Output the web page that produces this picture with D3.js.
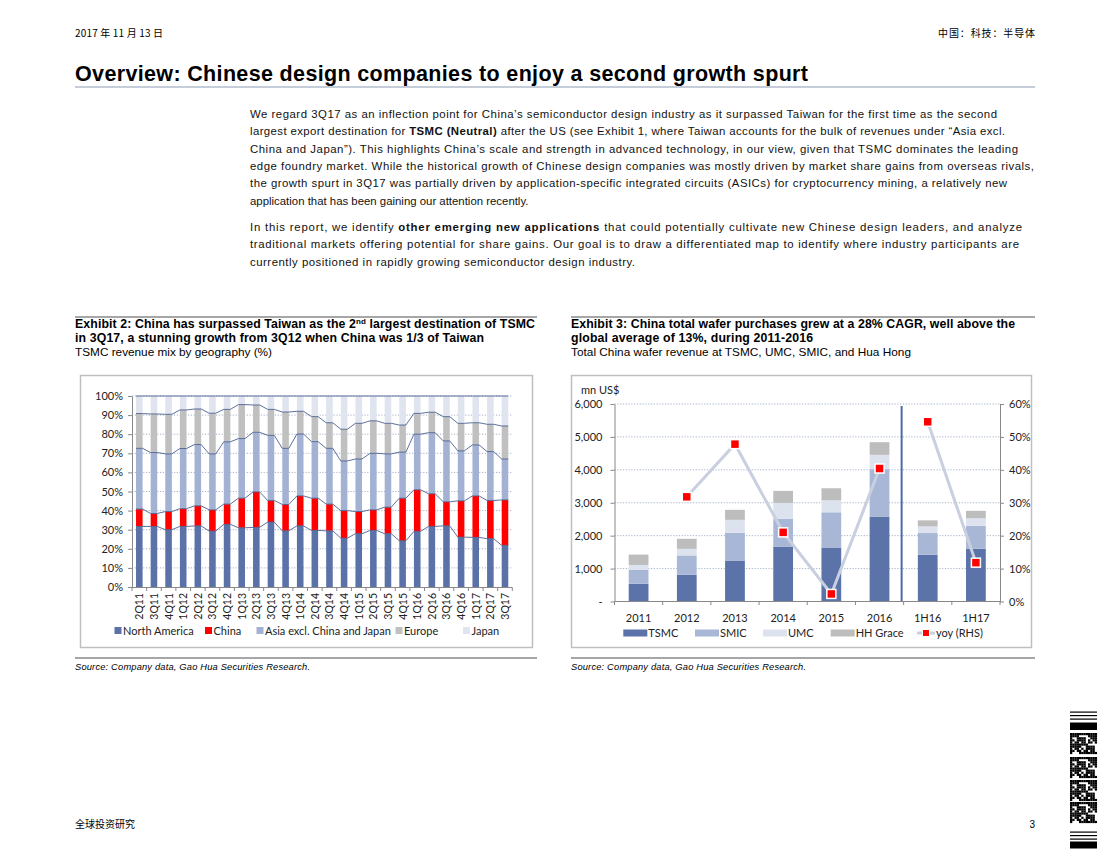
<!DOCTYPE html>
<html>
<head>
<meta charset="utf-8">
<script src="https://cdn.jsdelivr.net/npm/d3@7"></script>
<style>
  body { margin: 0; background: #fff; }
  svg text { font-family: "Liberation Sans", Arial, sans-serif; }
  .cjk { font-family: "Noto Sans CJK SC", sans-serif !important; }
  .xl { font-family: Lato, "Open Sans", sans-serif !important; }
</style>
</head>
<body>
<div id="page"></div>
<script>
// ---- data: exhibit 2, TSMC revenue mix by geography (%)
const quarters = ["2Q11","3Q11","4Q11","1Q12","2Q12","3Q12","4Q12","1Q13","2Q13","3Q13","4Q13","1Q14","2Q14",
  "3Q14","4Q14","1Q15","2Q15","3Q15","4Q15","1Q16","2Q16","3Q16","4Q16","1Q17","2Q17","3Q17"];
const geoNames = ["North America", "China", "Asia excl. China and Japan", "Europe", "Japan"];
const northAmerica = [31.7,31.7,30.0,31.7,32.0,29.3,32.8,31.0,31.2,34.0,29.4,32.0,29.6,29.4,25.6,27.9,29.6,27.9,24.2,29.1,31.7,32.0,26.1,26.0,25.3,21.8];
const china        = [9.1,6.8,9.5,9.3,10.5,11.1,10.6,15.5,18.6,11.3,13.8,15.7,16.9,14.0,14.4,11.6,10.8,13.9,22.3,21.8,17.1,12.6,19.0,21.7,20.0,23.8];
const asiaExcl     = [31.8,31.9,30.2,31.5,32.1,29.3,32.6,31.2,31.2,34.1,29.4,32.4,29.6,29.2,26.0,27.5,29.6,27.9,24.1,29.1,32.0,31.9,26.2,26.7,25.6,21.4];
const europe       = [18.2,20.2,20.7,20.2,18.6,21.3,17.0,17.8,14.3,13.6,19.0,11.9,13.1,13.4,16.6,18.7,17.0,16.0,14.2,10.9,10.7,12.7,14.4,11.6,14.3,17.3];
const japan        = [9.2,9.4,9.6,7.3,6.8,9.0,7.0,4.5,4.7,7.0,8.4,8.0,10.8,14.0,17.4,14.3,13.0,14.3,15.2,9.1,8.5,10.8,14.3,14.0,14.8,15.7];
const pctTicks = [0,10,20,30,40,50,60,70,80,90,100];

// ---- data: exhibit 3, China wafer revenue (mn US$) and yoy (%)
const periods = ["2011","2012","2013","2014","2015","2016","1H16","1H17"];
const foundryNames = ["TSMC", "SMIC", "UMC", "HH Grace"];
const tsmc   = [540, 810, 1245, 1660, 1640, 2580, 1420, 1600];
const smic   = [420, 590, 840, 850, 1070, 1440, 660, 700];
const umc    = [150, 200, 395, 485, 365, 435, 200, 230];
const hhgrace= [315, 305, 305, 365, 365, 385, 185, 225];
const yoy    = [null, 31.8, 47.8, 21.0, 2.3, 40.4, 54.6, 11.8];
const yoyGroups = [["2012","2013","2014","2015","2016"], ["1H16","1H17"]];
const revTicks = [0,1000,2000,3000,4000,5000,6000];
const yoyTicks = [0,10,20,30,40,50,60];

const W = 1100, H = 850;
const svg = d3.select("#page").append("svg").attr("width", W).attr("height", H);

// stretch a text line to the width it has in the printed page
function fit(t, w) { if (w) t.attr("textLength", w).attr("lengthAdjust", "spacing"); return t; }

// ---------- page header ----------
fit(svg.append("text").attr("class","cjk").attr("x",75).attr("y",37).attr("font-size",10).text("2017 年 11 月 13 日"), 88);
fit(svg.append("text").attr("class","cjk").attr("x",938).attr("y",37).attr("font-size",10).text("中国：科技：半导体"), 97);
fit(svg.append("text").attr("x",75).attr("y",81).attr("font-size",21.5).attr("font-weight","bold")
  .text("Overview: Chinese design companies to enjoy a second growth spurt"), 733);
svg.append("line").attr("x1",75).attr("x2",1035).attr("y1",87).attr("y2",87).attr("stroke","#8b9bb4").attr("stroke-width",1);

// body paragraphs: each line as list of [text, bold]
const bodyLines = [
  [["We regard 3Q17 as an inflection point for China’s semiconductor design industry as it surpassed Taiwan for the first time as the second", false]],
  [["largest export destination for ", false], ["TSMC (Neutral)", true], [" after the US (see Exhibit 1, where Taiwan accounts for the bulk of revenues under “Asia excl.", false]],
  [["China and Japan”). This highlights China’s scale and strength in advanced technology, in our view, given that TSMC dominates the leading", false]],
  [["edge foundry market. While the historical growth of Chinese design companies was mostly driven by market share gains from overseas rivals,", false]],
  [["the growth spurt in 3Q17 was partially driven by application-specific integrated circuits (ASICs) for cryptocurrency mining, a relatively new", false]],
  [["application that has been gaining our attention recently.", false]],
  [["In this report, we identify ", false], ["other emerging new applications", true], [" that could potentially cultivate new Chinese design leaders, and analyze", false]],
  [["traditional markets offering potential for share gains. Our goal is to draw a differentiated map to identify where industry participants are", false]],
  [["currently positioned in rapidly growing semiconductor design industry.", false]]
];
const bodyY = [118, 135, 153, 170, 187, 205, 231, 248, 266];
const bodyW = [747, 755, 768, 784, 757, null, 772, 769, 385];
bodyLines.forEach((ln, i) => {
  const t = svg.append("text").attr("x", 250).attr("y", bodyY[i]).attr("font-size", 11.4).attr("fill", "#111");
  ln.forEach(([s, b]) => t.append("tspan").attr("font-weight", b ? "bold" : "normal").text(s));
  fit(t, bodyW[i]);
});

// ---------- exhibit headers ----------
function exhibitHead(x0, x1, lines, widths, sub, subW) {
  svg.append("line").attr("x1",x0).attr("x2",x1).attr("y1",317).attr("y2",317).attr("stroke","#222").attr("stroke-width",0.8);
  lines.forEach((l, i) => {
    const t = svg.append("text").attr("x", x0).attr("y", 328 + i*14).attr("font-size", 12.3).attr("font-weight","bold");
    l.forEach(([s, sup]) => {
      const sp = t.append("tspan").text(s);
      if (sup) sp.attr("font-size", 8).attr("dy", -4);
      else if (sup === false) sp.attr("dy", 4);
    });
    fit(t, widths[i]);
  });
  fit(svg.append("text").attr("x", x0).attr("y", 356).attr("font-size", 11.8).text(sub), subW);
}
exhibitHead(75, 537, [
  [["Exhibit 2: China has surpassed Taiwan as the 2"], ["nd", true], [" largest destination of TSMC", false]],
  [["in 3Q17, a stunning growth from 3Q12 when China was 1/3 of Taiwan"]]
], [460, 409], "TSMC revenue mix by geography (%)", 197);
exhibitHead(571, 1035, [
  [["Exhibit 3: China total wafer purchases grew at a 28% CAGR, well above the"]],
  [["global average of 13%, during 2011-2016"]]
], [444, 242], "Total China wafer revenue at TSMC, UMC, SMIC, and Hua Hong", 340);

// source lines
[[75, 537], [571, 1035]].forEach(([a, b]) => {
  svg.append("line").attr("x1",a).attr("x2",b).attr("y1",658).attr("y2",658).attr("stroke","#222").attr("stroke-width",0.8);
  fit(svg.append("text").attr("x",a).attr("y",670).attr("font-size",9.3).attr("font-style","italic")
    .text("Source: Company data, Gao Hua Securities Research."), 235);
});

// chart frames
svg.append("rect").attr("x",80.5).attr("y",375.5).attr("width",452).attr("height",272).attr("fill","none").attr("stroke","#bfbfbf").attr("stroke-width",1.5);
svg.append("rect").attr("x",571.5).attr("y",375.5).attr("width",460).attr("height",272).attr("fill","none").attr("stroke","#bfbfbf").attr("stroke-width",1.5);

// ---------- exhibit 2 chart ----------
const geoColors = ["#5a72a8", "#ff0000", "#a3b2d3", "#c0c0c0", "#dfe4ef"];
const xL = d3.scaleBand().domain(quarters).range([132, 512.3]).paddingInner(0.55).paddingOuter(0.275);
const yL = d3.scaleLinear().domain([0, 100]).range([587, 396]);

const gL = svg.append("g");
gL.append("g").selectAll("line").data(pctTicks.slice(1)).join("line")
  .attr("x1", 132).attr("x2", 512.3).attr("y1", d => yL(d)).attr("y2", d => yL(d))
  .attr("stroke", "#8c9dbd").attr("stroke-width", 0.8).attr("stroke-dasharray", "1.2,1.6");

const geoRows = quarters.map((q, i) => ({q, na: northAmerica[i], cn: china[i], as: asiaExcl[i], eu: europe[i], jp: japan[i]}));
const stackL = d3.stack().keys(["na","cn","as","eu","jp"])(geoRows);
stackL.forEach((s, k) => {
  gL.append("g").selectAll("rect").data(s).join("rect")
    .attr("x", d => xL(d.data.q)).attr("width", xL.bandwidth())
    .attr("y", d => yL(d[1])).attr("height", d => yL(d[0]) - yL(d[1]))
    .attr("fill", geoColors[k]);
});
// series lines connecting segment tops
stackL.forEach(s => {
  const pts = [];
  s.forEach(d => {
    pts.push([xL(d.data.q), yL(d[1])]);
    pts.push([xL(d.data.q) + xL.bandwidth(), yL(d[1])]);
  });
  gL.append("path").attr("d", d3.line()(pts)).attr("fill","none").attr("stroke","#4d6190").attr("stroke-width",0.9);
});

const axL = gL.append("g").attr("transform","translate(132,0)")
  .call(d3.axisLeft(yL).tickValues(pctTicks).tickFormat(d => d + "%").tickSize(4).tickSizeOuter(0));
axL.select(".domain").attr("stroke","#888");
axL.selectAll(".tick line").attr("stroke","#888");
axL.selectAll(".tick text").attr("class","xl").attr("font-size",11).attr("fill","#222").attr("x",-9);

gL.append("line").attr("x1",132).attr("x2",512.3).attr("y1",587.5).attr("y2",587.5).attr("stroke","#888");
gL.append("g").selectAll("line").data(d3.range(quarters.length + 1)).join("line")
  .attr("x1", i => 132 + i * xL.step()).attr("x2", i => 132 + i * xL.step())
  .attr("y1", 587.5).attr("y2", 591).attr("stroke","#888");
gL.append("g").selectAll("text").data(quarters).join("text").attr("class","xl")
  .attr("transform", d => `translate(${xL(d) + xL.bandwidth()/2 + 4},593) rotate(-90)`)
  .attr("text-anchor","end").attr("font-size",10.5).attr("fill","#222").text(d => d);

const legL = [118, 208.5, 260, 399, 466.5];
geoNames.forEach((n, i) => {
  gL.append("rect").attr("x", legL[i] - 3.5).attr("y", 627).attr("width", 7).attr("height", 7).attr("fill", geoColors[i]);
  gL.append("text").attr("class","xl").attr("x", legL[i] + 5).attr("y", 634.5).attr("font-size",11).attr("fill","#222").text(n);
});

// ---------- exhibit 3 chart ----------
const fColors = ["#5b73a9", "#a9b7d6", "#dce2ee", "#bdbdbd"];
const xR = d3.scaleBand().domain(periods).range([614.5, 1000]).paddingInner(0.59).paddingOuter(0.295);
const yR = d3.scaleLinear().domain([0, 6000]).range([601.5, 404]);
const yR2 = d3.scaleLinear().domain([0, 60]).range([601.5, 404]);
const gR = svg.append("g");

gR.append("g").selectAll("line").data(revTicks.slice(1)).join("line")
  .attr("x1", 614.5).attr("x2", 1000).attr("y1", d => yR(d)).attr("y2", d => yR(d))
  .attr("stroke", "#8c9dbd").attr("stroke-width", 0.8).attr("stroke-dasharray", "1.2,1.6");

const revRows = periods.map((p, i) => ({p, tsmc: tsmc[i], smic: smic[i], umc: umc[i], hh: hhgrace[i]}));
const stackR = d3.stack().keys(["tsmc","smic","umc","hh"])(revRows);
stackR.forEach((s, k) => {
  gR.append("g").selectAll("rect").data(s).join("rect")
    .attr("x", d => xR(d.data.p)).attr("width", xR.bandwidth())
    .attr("y", d => yR(d[1])).attr("height", d => yR(d[0]) - yR(d[1]))
    .attr("fill", fColors[k]);
});

// divider between full years and half years
const divX = 614.5 + 6 * xR.step() - 2;
gR.append("line").attr("x1", divX).attr("x2", divX).attr("y1", 406).attr("y2", 601.5).attr("stroke","#4f6aa8").attr("stroke-width",2);

const axR1 = gR.append("g").attr("transform","translate(614.5,0)")
  .call(d3.axisLeft(yR).tickValues(revTicks).tickFormat(d => d === 0 ? "-" : d3.format(",")(d)).tickSize(4).tickSizeOuter(0));
const axR2 = gR.append("g").attr("transform","translate(1000,0)")
  .call(d3.axisRight(yR2).tickValues(yoyTicks).tickFormat(d => d + "%").tickSize(4).tickSizeOuter(0));
[axR1, axR2].forEach(a => {
  a.select(".domain").attr("stroke","#888");
  a.selectAll(".tick line").attr("stroke","#888");
  a.selectAll(".tick text").attr("class","xl").attr("font-size",11).attr("fill","#222");
});
axR1.selectAll(".tick text").attr("x", -12);
axR2.selectAll(".tick text").attr("x", 9);

gR.append("line").attr("x1",614.5).attr("x2",1000).attr("y1",601.5).attr("y2",601.5).attr("stroke","#888");
gR.append("g").selectAll("line").data(d3.range(periods.length + 1)).join("line")
  .attr("x1", i => 614.5 + i * xR.step()).attr("x2", i => 614.5 + i * xR.step())
  .attr("y1", 601.5).attr("y2", 605).attr("stroke","#888");
gR.append("g").selectAll("text").data(periods).join("text").attr("class","xl")
  .attr("x", d => xR(d) + xR.bandwidth()/2).attr("y", 622).attr("text-anchor","middle")
  .attr("font-size",11).attr("fill","#222").text(d => d);
gR.append("text").attr("class","xl").attr("x",581).attr("y",394).attr("font-size",11).attr("fill","#222").text("mn US$");

// yoy line and markers
const cx = p => xR(p) + xR.bandwidth()/2;
const yoyOf = p => yoy[periods.indexOf(p)];
yoyGroups.forEach(g => {
  gR.append("path").attr("d", d3.line().x(cx).y(p => yR2(yoyOf(p)))(g))
    .attr("fill","none").attr("stroke","#c8cfdf").attr("stroke-width",3);
});
gR.append("g").selectAll("rect").data(periods.filter(p => yoyOf(p) != null)).join("rect")
  .attr("x", p => cx(p) - 4.5).attr("y", p => yR2(yoyOf(p)) - 4.5).attr("width", 9).attr("height", 9)
  .attr("fill","#ff0000").attr("stroke","#fff").attr("stroke-width",1.5);

// legend
const legR = [623.3, 695, 763, 830.7];
foundryNames.forEach((n, i) => {
  gR.append("rect").attr("x", legR[i]).attr("y", 629.5).attr("width", 24).attr("height", 7).attr("fill", fColors[i]);
  gR.append("text").attr("class","xl").attr("x", legR[i] + 25).attr("y", 637).attr("font-size",11).attr("fill","#222").text(n);
});
gR.append("line").attr("x1",917).attr("x2",935).attr("y1",633).attr("y2",633).attr("stroke","#c8cfdf").attr("stroke-width",3);
gR.append("rect").attr("x",922.5).attr("y",629.5).attr("width",7).attr("height",7).attr("fill","#ff0000").attr("stroke","#fff").attr("stroke-width",1);
gR.append("text").attr("class","xl").attr("x",936).attr("y",637).attr("font-size",11).attr("fill","#222").text("yoy (RHS)");

// ---------- footer ----------
svg.append("text").attr("class","cjk").attr("x",75).attr("y",828).attr("font-size",10).text("全球投资研究");
svg.append("text").attr("x",1035).attr("y",828).attr("font-size",10).attr("text-anchor","end").text("3");

// side barcode decoration
const bc = svg.append("g");
[711.5, 715, 718.5, 831.5, 835, 838.5].forEach(y => bc.append("rect").attr("x",1070).attr("y",y).attr("width",27).attr("height",1.2).attr("fill","#000"));
[[722.5, 7.5], [841.5, 7]].forEach(([y, h]) => bc.append("rect").attr("x",1070).attr("y",y).attr("width",27).attr("height",h).attr("fill","#000"));
[733, 757, 780, 802].forEach((y0, b) => {
  for (let r = 0; r < 10; r++) for (let c = 0; c < 12; c++) {
    if (r === 0 || c === 0 || ((r * 7 + c * 5 + b * 3 + (r * c) % 4) % 3 !== 0)) {
      bc.append("rect").attr("x", 1070 + c * 2.25).attr("y", y0 + r * 2.1).attr("width", 2.3).attr("height", 2.2).attr("fill", "#000");
    }
  }
});
</script>
</body>
</html>
